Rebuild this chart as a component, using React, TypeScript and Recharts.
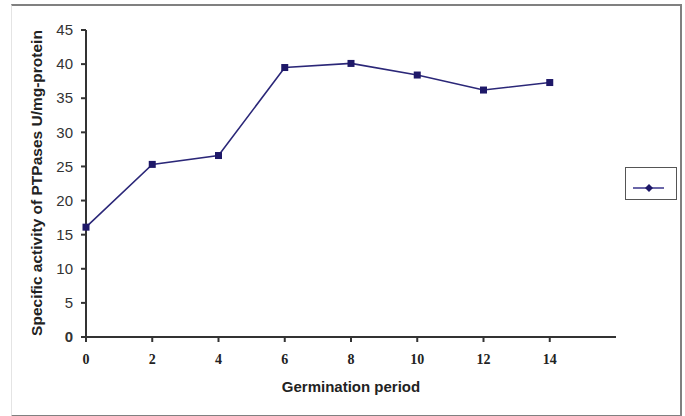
import { LineChart, Line, XAxis, YAxis, Label } from "recharts";

const days = [0, 2, 4, 6, 8, 10, 12, 14];
const activity = [16.1, 25.3, 26.6, 39.5, 40.1, 38.4, 36.2, 37.3];
const yTicks = [0, 5, 10, 15, 20, 25, 30, 35, 40, 45];

const data = days.map((d, i) => ({ day: d, value: activity[i] }));

const LINE = "#2b2778";
const MARK = "#1e1868";

const SquareDot = (props: any) => {
    const { cx, cy } = props;
    if (cx == null || cy == null) return null;
    return <rect x={cx - 3.5} y={cy - 3.5} width={7} height={7} fill={MARK} />;
};

const YTick = (props: any) => {
    const { x, y, payload } = props;
    const isZero = payload.value === 0;
    return (
        <text x={x} y={y} dy="0.35em" textAnchor="end" fontFamily="Liberation Sans, Arial, sans-serif"
            fontSize={15} fontWeight={isZero ? 700 : 400} fill="#333">
            {payload.value}
        </text>
    );
};

const XTick = (props: any) => {
    const { x, y, payload } = props;
    return (
        <text x={x} y={y} dy="0.71em" textAnchor="middle" fontFamily="Liberation Serif, Times New Roman, serif"
            fontSize={14} fontWeight={700} fill="#222">
            {payload.value}
        </text>
    );
};

// legend box drawn beside the plot, like the original spreadsheet chart
const LegendBox = () => (
    <div style={{ position: "absolute", left: 625, top: 167, width: 50, height: 31, border: "1px solid #555" }}>
        <svg width={50} height={31}>
            <line x1={7} y1={20} x2={38} y2={20} stroke="#6a66a8" strokeWidth={2} />
            <path d="M23 16 L27 20 L23 24 L19 20 Z" fill={MARK} />
        </svg>
    </div>
);

export default function App() {
    return (
        <div style={{ position: "absolute", left: 0, top: 0, width: 685, height: 416, background: "#fff" }}>
            <LineChart width={685} height={416} data={data} margin={{ top: 30, right: 69, bottom: 49, left: 46 }}>
                <XAxis dataKey="day" type="number" domain={[0, 16]} ticks={days} interval={0}
                    axisLine={{ stroke: "#333", strokeWidth: 2 }} tickLine={{ stroke: "#333", strokeWidth: 2 }}
                    tickSize={5} tickMargin={12} tick={<XTick />} height={30}>
                    <Label content={() => (
                        <text x={351} y={392} textAnchor="middle" fontFamily="Liberation Sans, Arial, sans-serif"
                            fontSize={15} fontWeight={700} fill="#222">Germination period</text>
                    )} />
                </XAxis>
                <YAxis type="number" domain={[0, 45]} ticks={yTicks} interval={0} width={40}
                    axisLine={{ stroke: "#333", strokeWidth: 2 }} tickLine={{ stroke: "#333", strokeWidth: 2 }}
                    tickSize={5} tickMargin={8} tick={<YTick />}>
                    <Label content={() => (
                        <text x={42} y={183} textAnchor="middle" transform="rotate(-90 42 183)"
                            fontFamily="Liberation Sans, Arial, sans-serif" fontSize={15.5} fontWeight={700} fill="#222">
                            Specific activity of PTPases U/mg-protein
                        </text>
                    )} />
                </YAxis>
                <Line dataKey="value" stroke={LINE} strokeWidth={1.6} dot={<SquareDot />}
                    activeDot={false} isAnimationActive={false} />
            </LineChart>
            <LegendBox />
            <div style={{
                position: "absolute", left: 11, top: 4, width: 668, height: 409,
                borderTop: "2px solid #808080", borderRight: "2px solid #808080",
                borderBottom: "2px solid #808080", borderLeft: "1px solid #e4e4e4", pointerEvents: "none"
            }} />
        </div>
    );
}
